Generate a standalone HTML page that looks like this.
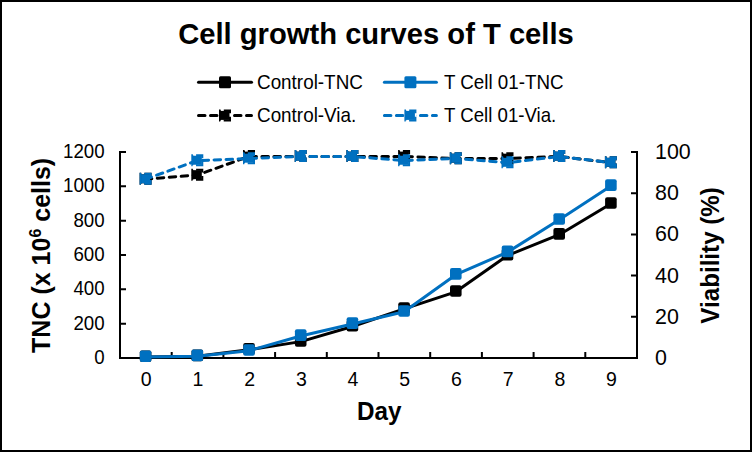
<!DOCTYPE html>
<html><head><meta charset="utf-8"><style>
html,body{margin:0;padding:0;background:#fff;width:752px;height:452px;overflow:hidden}
svg{display:block;font-family:"Liberation Sans",sans-serif;fill:#000}
</style></head><body>
<svg width="752" height="452" viewBox="0 0 752 452">
<rect x="0" y="0" width="752" height="452" fill="#fff"/>
<rect x="1" y="1" width="750" height="450" fill="none" stroke="#000" stroke-width="2"/>
<text x="376" y="44.4" text-anchor="middle" font-size="29.33" font-weight="bold" textLength="395.6" lengthAdjust="spacingAndGlyphs">Cell growth curves of T cells</text>
<line x1="198.5" y1="82.3" x2="251.5" y2="82.3" stroke="#000" stroke-width="3" stroke-linecap="round"/><rect x="219.00" y="76.30" width="12" height="12" rx="1.5" fill="#000"/>
<text x="257" y="89" font-size="19.8" textLength="105.9" lengthAdjust="spacingAndGlyphs">Control-TNC</text>
<line x1="384.4" y1="82.3" x2="436.4" y2="82.3" stroke="#0070C0" stroke-width="3" stroke-linecap="round"/><rect x="404.40" y="76.30" width="12" height="12" rx="1.5" fill="#0070C0"/>
<text x="444" y="89" font-size="19.8" textLength="119.5" lengthAdjust="spacingAndGlyphs">T Cell 01-TNC</text>
<line x1="198.5" y1="115.4" x2="251.5" y2="115.4" stroke="#000" stroke-width="3" stroke-linecap="round" stroke-dasharray="6.5 5.5"/><rect x="219.00" y="109.40" width="12" height="12" fill="#fff"/><rect x="220.50" y="110.90" width="9" height="9" fill="#000"/><rect x="220.00" y="110.40" width="10" height="10" fill="none" stroke="#000" stroke-width="2" stroke-dasharray="0.6 3.2 9.1 3.4 10 3.4 20 0"/>
<text x="257" y="122" font-size="19.8" textLength="99.3" lengthAdjust="spacingAndGlyphs">Control-Via.</text>
<line x1="384.4" y1="115.4" x2="436.4" y2="115.4" stroke="#0070C0" stroke-width="3" stroke-linecap="round" stroke-dasharray="6.5 5.5"/><rect x="404.40" y="109.40" width="12" height="12" fill="#fff"/><rect x="405.90" y="110.90" width="9" height="9" fill="#0070C0"/><rect x="405.40" y="110.40" width="10" height="10" fill="none" stroke="#0070C0" stroke-width="2" stroke-dasharray="0.6 3.2 9.1 3.4 10 3.4 20 0"/>
<text x="444" y="122" font-size="19.8" textLength="112.3" lengthAdjust="spacingAndGlyphs">T Cell 01-Via.</text>
<path d="M120,151 V359 M637,151 V359 M119,358 H638 M120,358.00 H126 M120,323.67 H126 M120,289.33 H126 M120,255.00 H126 M120,220.67 H126 M120,186.33 H126 M120,152.00 H126 M631,358.00 H637 M631,316.80 H637 M631,275.60 H637 M631,234.40 H637 M631,193.20 H637 M631,152.00 H637 M171.70,358 V352 M223.40,358 V352 M275.10,358 V352 M326.80,358 V352 M378.50,358 V352 M430.20,358 V352 M481.90,358 V352 M533.60,358 V352 M585.30,358 V352" stroke="#000" stroke-width="2" fill="none"/>
<text x="104.6" y="363.90" text-anchor="end" font-size="19.5" textLength="10.40" lengthAdjust="spacingAndGlyphs">0</text>
<text x="104.6" y="329.57" text-anchor="end" font-size="19.5" textLength="31.20" lengthAdjust="spacingAndGlyphs">200</text>
<text x="104.6" y="295.23" text-anchor="end" font-size="19.5" textLength="31.20" lengthAdjust="spacingAndGlyphs">400</text>
<text x="104.6" y="260.90" text-anchor="end" font-size="19.5" textLength="31.20" lengthAdjust="spacingAndGlyphs">600</text>
<text x="104.6" y="226.57" text-anchor="end" font-size="19.5" textLength="31.20" lengthAdjust="spacingAndGlyphs">800</text>
<text x="104.6" y="192.23" text-anchor="end" font-size="19.5" textLength="41.60" lengthAdjust="spacingAndGlyphs">1000</text>
<text x="104.6" y="157.90" text-anchor="end" font-size="19.5" textLength="41.60" lengthAdjust="spacingAndGlyphs">1200</text>
<text x="655" y="364.90" font-size="21.5" textLength="11.90" lengthAdjust="spacingAndGlyphs">0</text>
<text x="655" y="323.70" font-size="21.5" textLength="23.80" lengthAdjust="spacingAndGlyphs">20</text>
<text x="655" y="282.50" font-size="21.5" textLength="23.80" lengthAdjust="spacingAndGlyphs">40</text>
<text x="655" y="241.30" font-size="21.5" textLength="23.80" lengthAdjust="spacingAndGlyphs">60</text>
<text x="655" y="200.10" font-size="21.5" textLength="23.80" lengthAdjust="spacingAndGlyphs">80</text>
<text x="655" y="158.90" font-size="21.5" textLength="35.70" lengthAdjust="spacingAndGlyphs">100</text>
<text x="146.25" y="385.8" text-anchor="middle" font-size="19.5">0</text>
<text x="197.95" y="385.8" text-anchor="middle" font-size="19.5">1</text>
<text x="249.65" y="385.8" text-anchor="middle" font-size="19.5">2</text>
<text x="301.35" y="385.8" text-anchor="middle" font-size="19.5">3</text>
<text x="353.05" y="385.8" text-anchor="middle" font-size="19.5">4</text>
<text x="404.75" y="385.8" text-anchor="middle" font-size="19.5">5</text>
<text x="456.45" y="385.8" text-anchor="middle" font-size="19.5">6</text>
<text x="508.15" y="385.8" text-anchor="middle" font-size="19.5">7</text>
<text x="559.85" y="385.8" text-anchor="middle" font-size="19.5">8</text>
<text x="611.55" y="385.8" text-anchor="middle" font-size="19.5">9</text>
<text x="379.3" y="419.8" text-anchor="middle" font-size="25" font-weight="bold" textLength="44.5" lengthAdjust="spacingAndGlyphs">Day</text>
<text transform="translate(49.9,255.35) rotate(-90)" text-anchor="middle" font-size="25" font-weight="bold">TNC (x 10<tspan font-size="16" dy="-9">6</tspan><tspan dy="9"> cells)</tspan></text>
<text transform="translate(719.2,255.4) rotate(-90)" text-anchor="middle" font-size="25" font-weight="bold" textLength="136.6" lengthAdjust="spacingAndGlyphs">Viability (%)</text>
<polyline points="145.60,357.08 197.30,356.23 249.00,349.70 300.70,341.63 352.40,326.53 404.10,308.85 455.80,291.85 507.50,255.46 559.20,234.69 610.90,203.79" fill="none" stroke="#000" stroke-width="3" stroke-linejoin="round"/>
<rect x="139.80" y="350.48" width="11.6" height="11.6" rx="2" fill="#000"/><rect x="191.50" y="349.62" width="11.6" height="11.6" rx="2" fill="#000"/><rect x="243.20" y="343.10" width="11.6" height="11.6" rx="2" fill="#000"/><rect x="294.90" y="335.03" width="11.6" height="11.6" rx="2" fill="#000"/><rect x="346.60" y="319.93" width="11.6" height="11.6" rx="2" fill="#000"/><rect x="398.30" y="302.25" width="11.6" height="11.6" rx="2" fill="#000"/><rect x="450.00" y="285.25" width="11.6" height="11.6" rx="2" fill="#000"/><rect x="501.70" y="248.86" width="11.6" height="11.6" rx="2" fill="#000"/><rect x="553.40" y="228.08" width="11.6" height="11.6" rx="2" fill="#000"/><rect x="605.10" y="197.19" width="11.6" height="11.6" rx="2" fill="#000"/>
<polyline points="145.60,357.08 197.30,356.23 249.00,350.73 300.70,335.97 352.40,323.95 404.10,311.76 455.80,274.68 507.50,252.19 559.20,219.75 610.90,185.93" fill="none" stroke="#0070C0" stroke-width="3" stroke-linejoin="round"/>
<rect x="139.80" y="350.48" width="11.6" height="11.6" rx="2" fill="#0070C0"/><rect x="191.50" y="349.62" width="11.6" height="11.6" rx="2" fill="#0070C0"/><rect x="243.20" y="344.13" width="11.6" height="11.6" rx="2" fill="#0070C0"/><rect x="294.90" y="329.37" width="11.6" height="11.6" rx="2" fill="#0070C0"/><rect x="346.60" y="317.35" width="11.6" height="11.6" rx="2" fill="#0070C0"/><rect x="398.30" y="305.16" width="11.6" height="11.6" rx="2" fill="#0070C0"/><rect x="450.00" y="268.08" width="11.6" height="11.6" rx="2" fill="#0070C0"/><rect x="501.70" y="245.59" width="11.6" height="11.6" rx="2" fill="#0070C0"/><rect x="553.40" y="213.15" width="11.6" height="11.6" rx="2" fill="#0070C0"/><rect x="605.10" y="179.33" width="11.6" height="11.6" rx="2" fill="#0070C0"/>
<polyline points="145.60,179.13 197.30,175.01 249.00,156.47 300.70,156.47 352.40,156.47 404.10,156.47 455.80,158.53 507.50,158.53 559.20,156.47 610.90,162.65" fill="none" stroke="#000" stroke-width="3" stroke-linecap="round" stroke-dasharray="6.5 5.5" stroke-dashoffset="0.3"/>
<rect x="141.10" y="174.28" width="9" height="9" fill="#000"/><rect x="140.60" y="173.78" width="10" height="10" fill="none" stroke="#000" stroke-width="2" stroke-dasharray="0.6 3.2 9.1 3.4 10 3.4 20 0"/><rect x="192.80" y="170.16" width="9" height="9" fill="#000"/><rect x="192.30" y="169.66" width="10" height="10" fill="none" stroke="#000" stroke-width="2" stroke-dasharray="0.6 3.2 9.1 3.4 10 3.4 20 0"/><rect x="244.50" y="151.62" width="9" height="9" fill="#000"/><rect x="244.00" y="151.12" width="10" height="10" fill="none" stroke="#000" stroke-width="2" stroke-dasharray="0.6 3.2 9.1 3.4 10 3.4 20 0"/><rect x="296.20" y="151.62" width="9" height="9" fill="#000"/><rect x="295.70" y="151.12" width="10" height="10" fill="none" stroke="#000" stroke-width="2" stroke-dasharray="0.6 3.2 9.1 3.4 10 3.4 20 0"/><rect x="347.90" y="151.62" width="9" height="9" fill="#000"/><rect x="347.40" y="151.12" width="10" height="10" fill="none" stroke="#000" stroke-width="2" stroke-dasharray="0.6 3.2 9.1 3.4 10 3.4 20 0"/><rect x="399.60" y="151.62" width="9" height="9" fill="#000"/><rect x="399.10" y="151.12" width="10" height="10" fill="none" stroke="#000" stroke-width="2" stroke-dasharray="0.6 3.2 9.1 3.4 10 3.4 20 0"/><rect x="451.30" y="153.68" width="9" height="9" fill="#000"/><rect x="450.80" y="153.18" width="10" height="10" fill="none" stroke="#000" stroke-width="2" stroke-dasharray="0.6 3.2 9.1 3.4 10 3.4 20 0"/><rect x="503.00" y="153.68" width="9" height="9" fill="#000"/><rect x="502.50" y="153.18" width="10" height="10" fill="none" stroke="#000" stroke-width="2" stroke-dasharray="0.6 3.2 9.1 3.4 10 3.4 20 0"/><rect x="554.70" y="151.62" width="9" height="9" fill="#000"/><rect x="554.20" y="151.12" width="10" height="10" fill="none" stroke="#000" stroke-width="2" stroke-dasharray="0.6 3.2 9.1 3.4 10 3.4 20 0"/><rect x="606.40" y="157.80" width="9" height="9" fill="#000"/><rect x="605.90" y="157.30" width="10" height="10" fill="none" stroke="#000" stroke-width="2" stroke-dasharray="0.6 3.2 9.1 3.4 10 3.4 20 0"/>
<polyline points="145.60,179.13 197.30,160.59 249.00,158.53 300.70,156.47 352.40,156.47 404.10,160.59 455.80,158.53 507.50,162.65 559.20,156.47 610.90,162.65" fill="none" stroke="#0070C0" stroke-width="3" stroke-linecap="round" stroke-dasharray="6.5 5.5" stroke-dashoffset="0.3"/>
<rect x="141.10" y="174.28" width="9" height="9" fill="#0070C0"/><rect x="140.60" y="173.78" width="10" height="10" fill="none" stroke="#0070C0" stroke-width="2" stroke-dasharray="0.6 3.2 9.1 3.4 10 3.4 20 0"/><rect x="192.80" y="155.74" width="9" height="9" fill="#0070C0"/><rect x="192.30" y="155.24" width="10" height="10" fill="none" stroke="#0070C0" stroke-width="2" stroke-dasharray="0.6 3.2 9.1 3.4 10 3.4 20 0"/><rect x="244.50" y="153.68" width="9" height="9" fill="#0070C0"/><rect x="244.00" y="153.18" width="10" height="10" fill="none" stroke="#0070C0" stroke-width="2" stroke-dasharray="0.6 3.2 9.1 3.4 10 3.4 20 0"/><rect x="296.20" y="151.62" width="9" height="9" fill="#0070C0"/><rect x="295.70" y="151.12" width="10" height="10" fill="none" stroke="#0070C0" stroke-width="2" stroke-dasharray="0.6 3.2 9.1 3.4 10 3.4 20 0"/><rect x="347.90" y="151.62" width="9" height="9" fill="#0070C0"/><rect x="347.40" y="151.12" width="10" height="10" fill="none" stroke="#0070C0" stroke-width="2" stroke-dasharray="0.6 3.2 9.1 3.4 10 3.4 20 0"/><rect x="399.60" y="155.74" width="9" height="9" fill="#0070C0"/><rect x="399.10" y="155.24" width="10" height="10" fill="none" stroke="#0070C0" stroke-width="2" stroke-dasharray="0.6 3.2 9.1 3.4 10 3.4 20 0"/><rect x="451.30" y="153.68" width="9" height="9" fill="#0070C0"/><rect x="450.80" y="153.18" width="10" height="10" fill="none" stroke="#0070C0" stroke-width="2" stroke-dasharray="0.6 3.2 9.1 3.4 10 3.4 20 0"/><rect x="503.00" y="157.80" width="9" height="9" fill="#0070C0"/><rect x="502.50" y="157.30" width="10" height="10" fill="none" stroke="#0070C0" stroke-width="2" stroke-dasharray="0.6 3.2 9.1 3.4 10 3.4 20 0"/><rect x="554.70" y="151.62" width="9" height="9" fill="#0070C0"/><rect x="554.20" y="151.12" width="10" height="10" fill="none" stroke="#0070C0" stroke-width="2" stroke-dasharray="0.6 3.2 9.1 3.4 10 3.4 20 0"/><rect x="606.40" y="157.80" width="9" height="9" fill="#0070C0"/><rect x="605.90" y="157.30" width="10" height="10" fill="none" stroke="#0070C0" stroke-width="2" stroke-dasharray="0.6 3.2 9.1 3.4 10 3.4 20 0"/>
</svg>
</body></html>
